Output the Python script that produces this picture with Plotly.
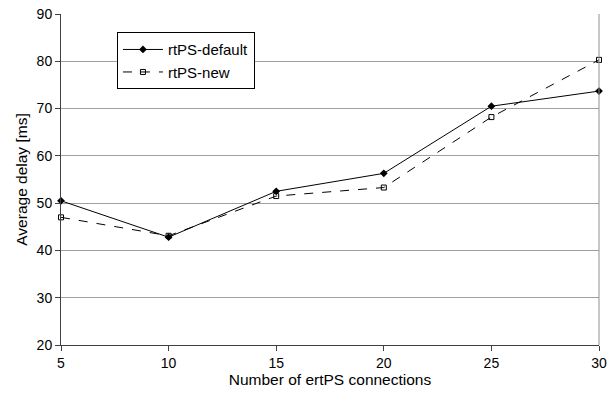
import plotly.graph_objects as go

connections = [5, 10, 15, 20, 25, 30]
rtps_default = [50.5, 42.8, 52.5, 56.3, 70.5, 73.7]
rtps_new = [47.0, 43.1, 51.5, 53.3, 68.2, 80.3]
y_ticks = [20, 30, 40, 50, 60, 70, 80, 90]

fig = go.Figure()
fig.add_trace(go.Scatter(
    x=connections, y=rtps_default, name="rtPS-default", mode="lines+markers",
    line=dict(color="black", width=1),
    marker=dict(symbol="diamond", size=6, color="black"),
    cliponaxis=False,
))
fig.add_trace(go.Scatter(
    x=connections, y=rtps_new, name="rtPS-new", mode="lines+markers",
    line=dict(color="black", width=1, dash="dash"),
    marker=dict(symbol="square-open", size=5, color="black", line=dict(width=1)),
    cliponaxis=False,
))

fam = "Liberation Sans, Arial, sans-serif"
fig.update_layout(
    width=614, height=394,
    margin=dict(l=61, r=15, t=14, b=49, autoexpand=False),
    paper_bgcolor="white", plot_bgcolor="white",
    font=dict(family=fam, size=14, color="black"),
    showlegend=True,
    legend=dict(
        x=0.104, y=0.945, xanchor="left", yanchor="top",
        bordercolor="black", borderwidth=1, bgcolor="white",
        font=dict(family=fam, size=15),
        tracegroupgap=0, itemwidth=40,
    ),
    xaxis=dict(
        range=[5, 30], tickvals=connections, ticks="outside", ticklen=5,
        tickcolor="#404040", showline=True, linecolor="#404040", linewidth=1,
        mirror=False, showgrid=False, zeroline=False, automargin=False,
        tickfont=dict(family=fam, size=14),
        title=dict(text="Number of ertPS connections", standoff=4,
                   font=dict(family=fam, size=15.5)),
    ),
    yaxis=dict(
        range=[20, 90], tickvals=y_ticks, ticks="outside", ticklen=5,
        tickcolor="#404040", showline=True, linecolor="#404040", linewidth=1,
        showgrid=True, gridcolor="#a0a0a0", gridwidth=1, zeroline=False,
        automargin=False,
        tickfont=dict(family=fam, size=14),
        title=dict(text="Average delay [ms]", standoff=5,
                   font=dict(family=fam, size=15.5)),
    ),
)
# right border of plot area
fig.add_shape(type="line", xref="paper", yref="paper", x0=1, x1=1, y0=0, y1=1,
              line=dict(color="#909090", width=1))

fig.write_html("out.html")
